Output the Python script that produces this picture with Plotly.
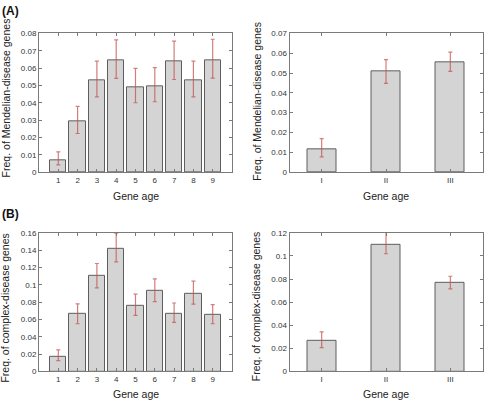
import plotly.graph_objects as go

# values (frequency, upper and lower error limits)
ages = [1, 2, 3, 4, 5, 6, 7, 8, 9]
age_groups = [1, 2, 3]
age_group_labels = ["I", "II", "III"]

mendel_freq = [0.0070, 0.0291, 0.0528, 0.0642, 0.0489, 0.0494, 0.0638, 0.0528, 0.0647]
mendel_hi = [0.0117, 0.0379, 0.0640, 0.0762, 0.0598, 0.0602, 0.0755, 0.0640, 0.0766]
mendel_lo = [0.0042, 0.0223, 0.0434, 0.0540, 0.0400, 0.0406, 0.0534, 0.0434, 0.0542]

mendel_grp_freq = [0.0113, 0.0507, 0.0554]
mendel_grp_hi = [0.0169, 0.0567, 0.0605]
mendel_grp_lo = [0.0077, 0.0448, 0.0508]

complex_freq = [0.0173, 0.0659, 0.1100, 0.1416, 0.0760, 0.0926, 0.0670, 0.0896, 0.0651]
complex_hi = [0.0248, 0.0779, 0.1246, 0.1596, 0.0892, 0.1069, 0.0790, 0.1043, 0.0772]
complex_lo = [0.0124, 0.0550, 0.0964, 0.1265, 0.0648, 0.0805, 0.0565, 0.0776, 0.0550]

complex_grp_freq = [0.0265, 0.1100, 0.0765]
complex_grp_hi = [0.0342, 0.1220, 0.0824]
complex_grp_lo = [0.0206, 0.1019, 0.0714]

W, H = 484, 407
FONT = "Liberation Sans, Arial, sans-serif"
BAR_FILL = "#d4d4d4"
BAR_EDGE = "#5e5e5e"
ERR_COLOR = "rgba(196, 82, 82, 0.75)"
AXIS_COLOR = "#7a7a7a"


def px_x(p):
    return p / W


def px_y(p):
    return 1 - p / H


def bar_trace(x, y, hi, lo, width, xa, ya):
    return go.Bar(
        x=x,
        y=y,
        width=width,
        marker=dict(color=BAR_FILL, line=dict(color=BAR_EDGE, width=1)),
        error_y=dict(
            type="data",
            symmetric=False,
            array=[h - v for h, v in zip(hi, y)],
            arrayminus=[v - l for v, l in zip(y, lo)],
            color=ERR_COLOR,
            thickness=1.2,
            width=2,
        ),
        xaxis=xa,
        yaxis=ya,
        showlegend=False,
        hoverinfo="skip",
    )


fig = go.Figure()
fig.add_trace(bar_trace(ages, mendel_freq, mendel_hi, mendel_lo, 0.84, "x", "y"))
fig.add_trace(bar_trace(age_groups, mendel_grp_freq, mendel_grp_hi, mendel_grp_lo, 0.45, "x2", "y2"))
fig.add_trace(bar_trace(ages, complex_freq, complex_hi, complex_lo, 0.84, "x3", "y3"))
fig.add_trace(bar_trace(age_groups, complex_grp_freq, complex_grp_hi, complex_grp_lo, 0.45, "x4", "y4"))

tick_font = dict(family=FONT, size=8, color="#333333")
common = dict(
    showline=True,
    linecolor=AXIS_COLOR,
    linewidth=1,
    mirror="ticks",
    ticks="inside",
    ticklen=3,
    tickcolor=AXIS_COLOR,
    showgrid=False,
    zeroline=False,
    tickfont=tick_font,
    fixedrange=True,
)

left_x = [px_x(39), px_x(232)]
right_x = [px_x(289.5), px_x(482.5)]
top_y = [px_y(172), px_y(30)]
bot_y = [px_y(375.7), px_y(234)]

fig.update_layout(
    width=W,
    height=H,
    margin=dict(l=0, r=0, t=0, b=0),
    paper_bgcolor="white",
    plot_bgcolor="white",
    bargap=0,
    font=dict(family=FONT, color="#222222"),
    xaxis=dict(domain=left_x, anchor="y", range=[0, 10], tickvals=ages, **common),
    yaxis=dict(domain=top_y, anchor="x", range=[0, 0.08], dtick=0.01, **common),
    xaxis2=dict(domain=right_x, anchor="y2", range=[0.5, 3.5], tickvals=age_groups,
                ticktext=age_group_labels, **common),
    yaxis2=dict(domain=top_y, anchor="x2", range=[0, 0.07], dtick=0.01, **common),
    xaxis3=dict(domain=left_x, anchor="y3", range=[0, 10], tickvals=ages, **common),
    yaxis3=dict(domain=bot_y, anchor="x3", range=[0, 0.16], dtick=0.02, **common),
    xaxis4=dict(domain=right_x, anchor="y4", range=[0.5, 3.5], tickvals=age_groups,
                ticktext=age_group_labels, **common),
    yaxis4=dict(domain=bot_y, anchor="x4", range=[0, 0.12], dtick=0.02, **common),
)

title_font = dict(family=FONT, size=10.5, color="#222222")
annotations = [
    dict(text="<b>(A)</b>", x=px_x(0), y=px_y(7), xanchor="left", yanchor="middle",
         font=dict(family=FONT, size=12, color="#111111")),
    dict(text="<b>(B)</b>", x=px_x(0), y=px_y(215), xanchor="left", yanchor="middle",
         font=dict(family=FONT, size=12, color="#111111")),
    dict(text="Freq. of Mendelian-disease genes", x=px_x(5.5), y=px_y(96), textangle=-90,
         xanchor="center", yanchor="middle", font=title_font),
    dict(text="Freq. of Mendelian-disease genes", x=px_x(257), y=px_y(100), textangle=-90,
         xanchor="center", yanchor="middle", font=title_font),
    dict(text="Freq. of complex-disease genes", x=px_x(5.5), y=px_y(311), textangle=-90,
         xanchor="center", yanchor="middle", font=title_font),
    dict(text="Freq. of complex-disease genes", x=px_x(256), y=px_y(310), textangle=-90,
         xanchor="center", yanchor="middle", font=title_font),
    dict(text="Gene age", x=px_x(135.5), y=px_y(196), xanchor="center", yanchor="middle", font=title_font),
    dict(text="Gene age", x=px_x(386), y=px_y(196), xanchor="center", yanchor="middle", font=title_font),
    dict(text="Gene age", x=px_x(135.5), y=0, xanchor="center", yanchor="bottom", font=title_font),
    dict(text="Gene age", x=px_x(386), y=0, xanchor="center", yanchor="bottom", font=title_font),
]
for a in annotations:
    a.update(xref="paper", yref="paper", showarrow=False)
fig.update_layout(annotations=annotations)

# the page body has a default 8px margin; drop it so the figure fills the window
fig.write_html(
    "out.html",
    config={"displayModeBar": False},
    post_script="document.body.style.margin = '0';",
)
